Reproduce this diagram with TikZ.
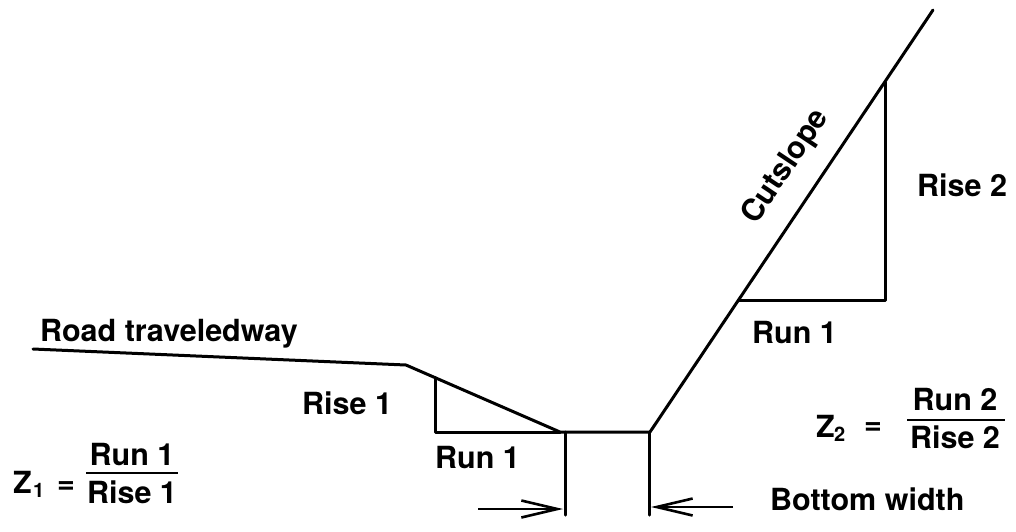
\documentclass[tikz,border=0pt]{standalone}
\usepackage{fontspec}
\setmainfont{TeX Gyre Heros}
\usetikzlibrary{arrows.meta}
\tikzset{
  ln/.style={line width=3pt, line join=round, line cap=round},
  lbl/.style={font=\bfseries\fontsize{30.5}{36}\selectfont, inner sep=0pt, anchor=base west},
  sub/.style={font=\bfseries\fontsize{20}{24}\selectfont, inner sep=0pt, anchor=base west},
  dimarrow/.style={line width=2.6pt, -{Straight Barb[length=36pt,width=17pt,line width=2.6pt]}}
}
\begin{document}
\begin{tikzpicture}[x=1pt,y=-1pt]
\path[use as bounding box, fill=white] (0,0) rectangle (1016,531);
% key points
\coordinate (A) at (33,349);
\coordinate (B) at (406,365);
\coordinate (C) at (560,432);
\coordinate (D) at (650,432);
\coordinate (E) at (933,10);
\coordinate (T1a) at (435,377.6);
\coordinate (T1b) at (435,432);
\coordinate (T2a) at (739,300);
\coordinate (T2b) at (885,300);
\coordinate (T2c) at (885,82);
\coordinate (V1t) at (565,432);
\coordinate (V1b) at (565,515);
\coordinate (V2t) at (649,432);
\coordinate (V2b) at (649,515);
\coordinate (L1) at (478,509);
\coordinate (L2) at (563,509);
\coordinate (R1) at (733,507);
\coordinate (R2) at (651,507);
% profile
\draw[ln] (A) -- (B) -- (C) -- (D) -- (E);
% triangles
\draw[ln] (T1a) -- (T1b) -- (C);
\draw[ln] (T2a) -- (T2b) -- (T2c);
% bottom width verticals
\draw[ln] (V1t) -- (V1b);
\draw[ln] (V2t) -- (V2b);
% arrows
\draw[dimarrow] (L1) -- (L2);
\draw[dimarrow] (R1) -- (R2);
% labels
\node[lbl] (road) at (40,341) {Road traveledway};
\node[lbl] (rise1) at (302,414) {Rise 1};
\node[lbl] (run1a) at (435,468) {Run 1};
\node[lbl] (run1b) at (752,343) {Run 1};
\node[lbl] (rise2) at (917,196) {Rise 2};
\node[lbl] (bw) at (770,510) {Bottom width};
\node[font=\bfseries\fontsize{30.5}{36}\selectfont, inner sep=0pt, rotate=56.2] (cut) at (786,167) {Cutslope};
% Z1 formula
\node[lbl] (z1) at (13,493) {Z};
\node[sub] (z1s) at (33,497) {1};
\node[lbl] (eq1) at (57,493) {=};
\node[lbl, anchor=base] (num1) at (132,465) {Run 1};
\node[lbl, anchor=base] (den1) at (132,503) {Rise 1};
\coordinate (b1l) at (86,473);
\coordinate (b1r) at (178,473);
\draw[line width=2.6pt] (b1l) -- (b1r);
% Z2 formula
\node[lbl] (z2) at (816,437) {Z};
\node[sub] (z2s) at (834,441) {2};
\node[lbl] (eq2) at (864,434) {=};
\node[lbl, anchor=base] (num2) at (955,410) {Run 2};
\node[lbl, anchor=base] (den2) at (955,448) {Rise 2};
\coordinate (b2l) at (907,420);
\coordinate (b2r) at (1005,420);
\draw[line width=2.6pt] (b2l) -- (b2r);
\end{tikzpicture}
\end{document}
